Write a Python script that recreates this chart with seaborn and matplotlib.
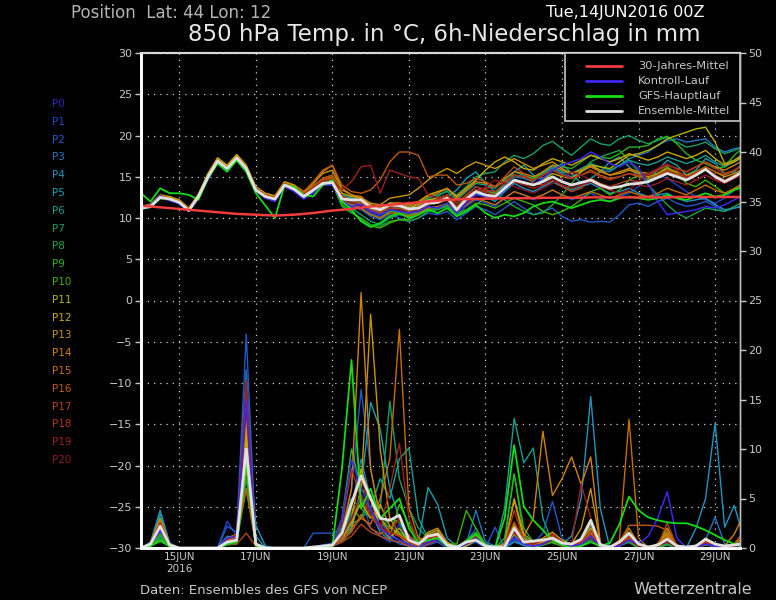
import numpy as np
import pandas as pd
import matplotlib
matplotlib.use("Agg")
import matplotlib.pyplot as plt
import seaborn as sns

# forecast steps: 6-hourly, in days since 14JUN2016 00Z
days = np.arange(64) * 0.25

# ---- 850 hPa temperature (degC) ----
temp_p01 = [11.3, 11.5, 12.5, 12.4, 12.0, 11.0, 12.7, 15.1, 17.0, 16.1, 17.4, 16.1, 13.5, 12.7, 12.4, 14.1,
            13.6, 12.7, 13.5, 14.3, 14.6, 12.2, 11.8, 11.6, 10.6, 10.2, 10.8, 10.6, 10.2, 10.6, 11.2, 11.0,
            11.6, 10.4, 11.4, 12.2, 11.8, 11.4, 12.4, 13.2, 12.8, 12.2, 12.8, 13.4, 12.8, 12.2, 12.6, 13.0,
            12.4, 12.0, 12.6, 13.0, 13.8, 14.6, 15.2, 14.8, 14.0, 13.2, 12.6, 12.2, 11.8, 12.4, 13.4, 14.0]
temp_p02 = [11.0, 11.3, 12.4, 12.2, 11.8, 10.8, 12.4, 14.8, 16.7, 15.8, 17.1, 15.7, 13.2, 12.4, 12.1, 13.8,
            13.3, 12.4, 13.2, 14.0, 14.1, 11.8, 11.4, 11.0, 10.2, 9.8, 10.4, 10.0, 9.6, 10.0, 10.6, 10.4,
            10.8, 9.8, 10.6, 11.4, 11.0, 10.4, 11.2, 12.0, 11.2, 10.4, 10.8, 11.2, 10.2, 9.6, 9.8, 9.5,
            9.6, 9.5, 10.4, 11.6, 11.8, 11.4, 12.0, 12.4, 11.8, 11.4, 11.6, 12.0, 11.4, 10.8, 11.2, 11.6]
temp_p03 = [11.2, 11.4, 12.6, 12.3, 11.9, 10.9, 12.6, 15.0, 16.9, 16.0, 17.3, 16.0, 13.4, 12.6, 12.3, 14.0,
            13.5, 12.6, 13.4, 14.2, 14.3, 12.6, 12.4, 12.0, 11.2, 10.8, 11.6, 11.4, 11.0, 11.4, 12.2, 12.4,
            12.8, 11.8, 12.8, 13.8, 13.4, 13.0, 14.0, 15.0, 14.8, 14.4, 15.4, 16.0, 15.4, 15.0, 15.6, 16.2,
            15.8, 15.6, 16.4, 17.2, 17.6, 18.0, 18.8, 19.4, 19.6, 19.2, 19.4, 19.6, 18.6, 18.0, 18.4, 18.6]
temp_p04 = [11.1, 11.5, 12.4, 12.2, 11.8, 11.0, 12.5, 14.9, 16.8, 15.9, 17.2, 15.9, 13.4, 12.5, 12.2, 13.9,
            13.4, 12.6, 13.3, 14.1, 14.3, 12.0, 11.6, 11.8, 11.0, 10.6, 11.0, 11.2, 10.8, 11.0, 11.6, 11.8,
            12.2, 11.2, 12.0, 13.0, 12.6, 12.0, 13.2, 14.2, 13.6, 13.2, 13.8, 14.4, 13.8, 13.4, 13.8, 14.2,
            13.6, 13.0, 13.2, 13.6, 13.0, 12.6, 12.8, 13.0, 12.4, 12.0, 12.2, 12.4, 11.6, 11.0, 11.2, 11.4]
temp_p05 = [11.3, 11.4, 12.5, 12.3, 11.9, 11.0, 12.6, 15.0, 16.9, 16.0, 17.2, 16.0, 13.5, 12.7, 12.4, 14.1,
            13.6, 12.8, 13.6, 14.4, 14.6, 12.4, 12.0, 11.8, 11.0, 10.6, 11.4, 11.2, 10.8, 11.2, 11.8, 12.2,
            12.6, 13.4, 14.8, 15.6, 14.2, 13.2, 13.8, 15.6, 16.4, 15.2, 14.6, 15.8, 16.6, 15.4, 14.2, 14.8,
            15.6, 16.8, 17.4, 16.2, 15.0, 14.6, 15.8, 17.0, 16.4, 15.2, 15.8, 17.2, 16.6, 15.4, 15.6, 16.8]
temp_p06 = [11.2, 11.6, 12.6, 12.4, 12.0, 11.1, 12.7, 15.2, 17.1, 16.2, 17.5, 16.2, 13.6, 12.8, 12.5, 14.2,
            13.8, 12.9, 13.8, 14.6, 14.9, 12.8, 12.4, 12.2, 11.4, 11.0, 11.8, 11.6, 11.2, 11.6, 12.4, 12.8,
            13.2, 12.2, 13.2, 14.2, 14.0, 13.6, 14.6, 15.6, 15.2, 14.8, 15.4, 16.2, 15.6, 15.4, 16.0, 16.6,
            16.2, 15.8, 16.4, 17.0, 16.6, 16.4, 16.8, 17.4, 17.0, 16.6, 17.0, 17.6, 16.8, 16.2, 16.8, 17.4]
temp_p07 = [11.2, 11.4, 12.4, 12.3, 11.9, 10.9, 12.5, 14.9, 16.8, 15.9, 17.2, 15.9, 13.3, 12.5, 12.2, 13.9,
            13.4, 12.5, 13.3, 14.1, 14.2, 12.0, 11.2, 10.4, 9.6, 9.2, 10.0, 10.4, 10.2, 10.8, 11.8, 12.6,
            13.4, 12.8, 13.8, 15.0, 15.4, 15.6, 16.8, 17.6, 17.2, 17.8, 18.8, 19.3, 18.4, 17.6, 18.6, 19.6,
            19.0, 18.8, 19.6, 20.0, 19.4, 19.0, 19.4, 19.8, 19.2, 18.6, 18.8, 19.2, 18.4, 17.8, 18.2, 18.6]
temp_p08 = [11.1, 11.3, 12.3, 12.2, 11.8, 10.8, 12.4, 14.8, 16.7, 15.8, 17.0, 15.7, 13.3, 12.5, 12.2, 13.8,
            13.4, 12.5, 13.2, 14.0, 14.2, 11.4, 10.6, 10.0, 9.2, 9.0, 9.6, 9.8, 9.6, 10.0, 10.8, 11.0,
            11.4, 10.4, 10.8, 11.6, 12.4, 13.0, 12.2, 11.4, 10.8, 10.4, 10.6, 11.6, 12.8, 14.2, 15.6, 16.8,
            17.4, 17.8, 18.2, 17.0, 15.6, 14.0, 12.8, 11.6, 10.6, 10.0, 10.6, 11.2, 11.0, 10.8, 11.4, 12.0]
temp_p09 = [11.3, 11.5, 12.6, 12.4, 12.0, 11.0, 12.7, 15.1, 17.0, 16.1, 17.4, 16.1, 13.5, 12.6, 12.3, 14.0,
            13.6, 12.7, 13.5, 14.3, 14.5, 12.2, 11.6, 11.2, 10.4, 10.0, 10.8, 10.8, 10.4, 10.8, 11.6, 11.8,
            12.2, 11.4, 12.4, 13.4, 13.2, 13.0, 14.2, 15.2, 15.0, 14.8, 15.6, 16.4, 16.2, 16.0, 16.8, 17.6,
            17.4, 17.2, 17.8, 18.6, 18.6, 18.8, 19.6, 19.9, 19.0, 17.8, 17.0, 16.6, 16.0, 16.2, 17.6, 18.6]
temp_p10 = [11.2, 11.3, 12.4, 12.2, 11.8, 10.9, 12.5, 14.9, 16.8, 15.9, 17.1, 15.8, 13.3, 12.5, 12.1, 13.8,
            13.3, 12.5, 13.2, 14.0, 14.1, 11.6, 10.8, 9.8, 9.0, 8.8, 9.4, 9.8, 9.8, 10.4, 11.0, 11.2,
            11.6, 10.6, 11.0, 11.8, 11.6, 11.2, 11.8, 12.4, 12.0, 11.6, 10.8, 10.4, 10.8, 11.4, 12.2, 13.2,
            13.6, 12.8, 13.4, 14.6, 15.2, 14.6, 15.4, 16.2, 15.4, 14.2, 13.8, 14.6, 13.8, 13.0, 13.4, 14.4]
temp_p11 = [11.4, 11.6, 12.7, 12.5, 12.1, 11.1, 12.8, 15.3, 17.2, 16.3, 17.6, 16.3, 13.7, 12.8, 12.5, 14.2,
            13.8, 12.9, 13.7, 14.6, 14.8, 12.6, 12.2, 12.2, 11.4, 11.0, 11.6, 11.4, 11.2, 11.6, 12.2, 12.4,
            12.8, 11.8, 12.6, 13.4, 13.2, 12.8, 13.6, 14.4, 14.2, 14.0, 14.6, 15.4, 15.0, 14.8, 15.6, 16.4,
            16.2, 16.0, 16.8, 17.6, 17.8, 18.2, 18.8, 19.6, 20.0, 20.4, 20.8, 21.0, 19.2, 16.6, 17.0, 17.8]
temp_p12 = [11.3, 11.7, 12.8, 12.6, 12.2, 11.2, 12.9, 15.4, 17.3, 16.4, 17.7, 16.4, 13.8, 13.0, 12.7, 14.4,
            14.0, 13.0, 13.9, 14.8, 15.2, 13.0, 12.6, 12.4, 11.6, 11.2, 11.8, 11.8, 11.6, 12.0, 12.8, 13.2,
            13.6, 12.6, 13.6, 14.6, 15.8, 16.8, 17.4, 16.8, 16.0, 15.8, 16.6, 17.2, 16.8, 16.4, 17.0, 17.6,
            17.2, 16.8, 17.2, 17.8, 17.4, 17.0, 17.4, 18.0, 17.6, 17.2, 17.6, 18.2, 17.2, 16.4, 16.8, 17.6]
temp_p13 = [11.4, 11.6, 12.6, 12.5, 12.1, 11.2, 12.8, 15.2, 17.1, 16.2, 17.5, 16.2, 13.7, 12.9, 12.6, 14.3,
            14.0, 13.2, 14.2, 15.4, 15.8, 13.4, 12.8, 12.4, 11.8, 11.6, 12.4, 12.6, 12.8, 13.6, 14.6, 15.4,
            16.0, 15.4, 16.2, 16.8, 16.4, 16.0, 16.6, 17.2, 16.6, 16.0, 16.4, 16.8, 16.0, 15.4, 15.8, 16.4,
            15.8, 15.2, 15.4, 15.8, 15.4, 15.0, 15.4, 16.0, 15.6, 15.2, 15.6, 16.2, 15.6, 15.0, 15.4, 16.0]
temp_p14 = [11.3, 11.5, 12.6, 12.4, 12.0, 11.0, 12.7, 15.1, 17.0, 16.1, 17.4, 16.1, 13.6, 12.8, 12.5, 14.2,
            13.9, 13.2, 14.2, 15.6, 16.4, 13.6, 12.8, 12.6, 11.6, 11.2, 11.8, 11.8, 11.4, 11.8, 12.6, 13.0,
            13.6, 12.4, 13.4, 14.4, 14.2, 13.8, 14.8, 15.6, 15.4, 15.0, 15.6, 16.4, 15.8, 15.4, 15.8, 16.2,
            15.6, 15.2, 15.6, 16.0, 15.6, 15.4, 15.8, 16.4, 16.0, 15.6, 16.2, 16.8, 16.2, 15.8, 16.4, 17.0]
temp_p15 = [11.1, 11.4, 12.5, 12.3, 11.9, 10.9, 12.6, 15.0, 16.9, 16.0, 17.3, 16.0, 13.4, 12.6, 12.3, 14.0,
            13.6, 12.8, 13.6, 14.6, 15.0, 12.4, 11.6, 11.2, 10.4, 10.0, 10.6, 10.6, 10.2, 10.6, 11.2, 11.4,
            11.8, 10.8, 11.6, 12.4, 12.0, 11.6, 12.4, 13.2, 12.8, 12.4, 12.8, 13.4, 12.8, 12.4, 12.8, 13.2,
            12.8, 12.4, 12.8, 13.2, 12.8, 12.6, 13.0, 13.6, 13.2, 12.8, 13.4, 14.0, 13.4, 13.0, 13.6, 14.2]
temp_p16 = [11.2, 11.5, 12.6, 12.4, 12.0, 11.0, 12.6, 15.0, 16.9, 16.0, 17.3, 16.0, 13.5, 12.7, 12.4, 14.1,
            13.8, 13.2, 14.4, 15.8, 16.4, 14.0, 13.2, 13.0, 13.4, 14.6, 16.8, 18.0, 18.0, 17.6, 15.0, 15.2,
            15.2, 14.0, 14.2, 14.8, 14.4, 13.8, 14.4, 15.2, 15.0, 14.6, 15.2, 15.8, 15.2, 14.8, 15.2, 15.8,
            15.2, 14.8, 15.0, 15.4, 15.0, 14.8, 15.2, 15.8, 15.4, 15.0, 15.6, 16.2, 15.6, 15.2, 15.8, 16.4]
temp_p17 = [11.3, 11.4, 12.5, 12.3, 11.9, 11.0, 12.6, 15.0, 16.9, 16.0, 17.3, 16.0, 13.5, 12.7, 12.4, 14.1,
            13.7, 12.9, 13.8, 14.8, 15.2, 12.6, 12.0, 11.8, 11.0, 10.6, 11.2, 11.2, 10.8, 11.2, 11.8, 12.0,
            12.6, 11.4, 12.4, 13.4, 13.6, 13.8, 15.0, 16.2, 15.4, 14.2, 14.0, 14.6, 13.8, 13.2, 13.6, 14.8,
            14.2, 13.8, 14.2, 14.6, 14.4, 14.4, 15.0, 15.6, 15.2, 14.8, 15.4, 16.0, 15.2, 14.6, 15.2, 15.8]
temp_p18 = [11.2, 11.6, 12.7, 12.4, 12.0, 11.1, 12.7, 15.1, 17.0, 16.1, 17.4, 16.1, 13.6, 12.8, 12.5, 14.2,
            13.7, 12.9, 13.7, 14.6, 14.8, 12.6, 12.2, 12.0, 11.2, 10.8, 11.4, 11.4, 11.0, 11.4, 12.0, 12.2,
            12.8, 11.8, 12.8, 13.8, 13.4, 13.2, 14.2, 15.2, 15.0, 14.6, 15.2, 15.8, 15.2, 14.8, 15.2, 15.6,
            15.0, 14.6, 15.0, 15.4, 15.2, 15.2, 15.8, 16.4, 16.0, 15.6, 16.2, 16.8, 16.0, 15.4, 15.8, 16.6]
temp_p19 = [11.2, 11.4, 12.5, 12.3, 11.9, 10.9, 12.6, 15.0, 16.9, 16.0, 17.3, 16.0, 13.4, 12.6, 12.3, 14.0,
            13.5, 12.7, 13.6, 14.4, 14.6, 13.4, 14.4, 16.2, 16.4, 13.0, 15.8, 15.4, 15.0, 14.8, 12.8, 12.4,
            12.8, 11.8, 12.6, 13.4, 13.2, 12.8, 13.6, 14.4, 14.0, 13.6, 14.0, 14.6, 14.0, 13.6, 14.0, 14.4,
            13.8, 13.4, 13.8, 14.2, 14.0, 13.8, 14.2, 14.8, 14.4, 14.0, 14.6, 15.2, 14.6, 14.2, 14.8, 15.4]
temp_p20 = [11.1, 11.5, 12.4, 12.2, 11.8, 10.9, 12.5, 14.9, 16.8, 15.9, 17.2, 15.9, 13.3, 12.5, 12.2, 13.9,
            13.4, 12.6, 13.4, 14.2, 14.4, 12.2, 11.8, 11.6, 10.8, 10.4, 11.0, 11.0, 10.6, 11.0, 11.6, 11.8,
            12.2, 11.2, 12.0, 12.8, 13.8, 14.6, 14.2, 13.8, 13.4, 13.0, 13.6, 14.2, 14.8, 15.6, 15.2, 14.6,
            14.0, 13.4, 13.0, 13.4, 14.4, 15.4, 16.0, 16.6, 15.8, 15.0, 14.6, 15.2, 14.6, 14.2, 14.8, 15.4]
temp_control = [11.0, 11.6, 12.7, 12.1, 11.7, 10.8, 12.4, 14.6, 16.8, 15.8, 17.0, 15.6, 13.6, 12.4, 12.0, 13.8,
                13.2, 12.3, 13.0, 14.0, 14.0, 12.0, 11.4, 11.6, 10.8, 10.4, 11.0, 10.8, 10.6, 10.8, 11.4, 11.2,
                11.8, 10.6, 11.8, 12.8, 12.6, 12.4, 13.4, 14.6, 14.4, 14.0, 14.8, 15.8, 16.4, 16.8, 17.2, 18.0,
                17.4, 16.6, 16.2, 16.8, 16.0, 14.2, 12.0, 10.4, 10.6, 10.8, 11.0, 11.4, 11.2, 11.6, 12.2, 12.8]
temp_gfs = [13.0, 12.0, 13.6, 13.0, 13.0, 12.8, 12.2, 14.8, 16.6, 15.6, 17.0, 15.6, 13.0, 11.5, 10.0, 14.0,
            13.8, 12.8, 12.6, 14.0, 14.6, 12.0, 11.0, 9.6, 8.9, 9.4, 10.2, 10.6, 10.0, 10.4, 11.0, 10.6,
            11.2, 10.2, 10.8, 11.6, 10.6, 10.0, 10.4, 10.2, 10.6, 11.4, 11.8, 12.0, 11.6, 11.2, 11.6, 12.0,
            12.2, 12.0, 12.4, 12.6, 12.4, 12.2, 12.4, 12.8, 12.4, 12.2, 12.6, 13.0, 12.6, 12.8, 13.4, 13.8]
temp_mean = [11.2, 11.4, 12.5, 12.3, 11.9, 10.9, 12.6, 15.0, 16.9, 16.0, 17.3, 16.0, 13.4, 12.6, 12.3, 14.0,
             13.5, 12.6, 13.4, 14.2, 14.3, 12.3, 12.2, 12.2, 11.3, 11.0, 11.6, 11.5, 11.1, 11.2, 11.8, 11.9,
             12.4, 11.0, 12.3, 13.2, 12.8, 12.6, 13.6, 14.6, 14.3, 14.0, 14.4, 15.0, 14.4, 14.0, 14.3, 14.6,
             14.0, 13.6, 13.8, 14.1, 14.2, 14.4, 14.9, 15.4, 15.0, 14.6, 15.2, 15.9, 15.0, 14.4, 15.0, 15.7]
temp_clim = [11.5, 11.4, 11.3, 11.2, 11.1, 11.0, 10.9, 10.8, 10.7, 10.6, 10.5, 10.45, 10.4, 10.35, 10.3, 10.35,
             10.4, 10.5, 10.6, 10.75, 10.9, 11.0, 11.1, 11.25, 11.4, 11.5, 11.6, 11.7, 11.8, 11.9, 12.0, 12.1,
             12.2, 12.25, 12.3, 12.3, 12.35, 12.35, 12.4, 12.4, 12.4, 12.4, 12.45, 12.45, 12.45, 12.45, 12.45, 12.5,
             12.5, 12.5, 12.5, 12.5, 12.5, 12.5, 12.5, 12.5, 12.55, 12.55, 12.55, 12.55, 12.55, 12.55, 12.55, 12.55]

# ---- 6h precipitation (mm) ----
prec_p01 = [0, 0.4, 2.0, 0.3, 0, 0, 0, 0, 0, 2.7, 1.2, 12.0, 0.3, 0, 0, 0,
            0, 0, 0, 0.3, 0.5, 1.0, 3.2, 5.0, 2.0, 1.2, 0.6, 2.4, 0.4, 0, 0.8, 1.0,
            0.2, 0, 0.6, 2.0, 0.3, 0, 0, 1.2, 0.4, 0.2, 0.8, 1.0, 0.3, 0, 0.4, 1.5,
            0, 0, 0.3, 0.8, 0, 0, 0, 0.4, 0, 0, 0, 0.6, 0.2, 0, 0, 0.3]
prec_p02 = [0, 0.5, 1.6, 0.2, 0, 0, 0, 0, 0, 2.2, 1.6, 21.6, 0.4, 0, 0, 0,
            0, 0, 1.5, 1.5, 1.5, 2.0, 6.0, 16.0, 8.0, 3.0, 1.0, 0.4, 0.2, 0, 0.3, 0.6,
            0, 0, 0.2, 0.6, 0, 2.1, 0, 0.8, 0.2, 0.5, 1.5, 4.7, 1.0, 0.2, 0.6, 2.0,
            0.2, 0, 0.4, 0.6, 0, 0, 0.2, 0.8, 0, 0, 0, 0.4, 0, 0, 0.2, 0]
prec_p03 = [0, 0.3, 2.4, 0.4, 0, 0, 0, 0, 0, 1.2, 0.8, 18.0, 0.5, 0, 0, 0,
            0, 0, 0, 0.2, 0.4, 1.4, 4.0, 9.0, 5.0, 2.0, 1.4, 0.8, 0.4, 0.2, 0.6, 1.2,
            0.4, 0, 0.4, 3.8, 0.6, 0.2, 0, 1.6, 0.6, 0.3, 0.8, 1.2, 0.4, 0.2, 0.8, 2.2,
            0, 0, 0.4, 1.2, 0.3, 0, 0.4, 1.0, 0.2, 0, 0, 0.8, 3.1, 0.4, 0.2, 0.6]
prec_p04 = [0, 0.6, 3.8, 0.5, 0, 0, 0, 0, 0, 0.8, 1.0, 14.0, 2.3, 0.2, 0, 0,
            0, 0, 0, 0, 0.2, 0.8, 2.4, 5.4, 3.6, 1.6, 0.8, 0.6, 0.2, 0, 0.6, 1.2,
            0.6, 0, 0.3, 1.2, 0.4, 0, 0, 0.6, 0.3, 0, 0.3, 0.6, 0.4, 1.2, 5.0, 15.3,
            4.0, 0, 0.6, 1.0, 0.2, 0, 0, 0.6, 0, 0, 2.0, 5.0, 12.6, 2.1, 4.3, 1.0]
prec_p05 = [0, 0.5, 3.4, 0.4, 0, 0, 0, 0, 0, 0.6, 0.6, 10.0, 1.2, 0, 0, 0,
            0, 0, 0, 0, 0.2, 0.6, 1.8, 6.0, 14.7, 12.0, 6.0, 3.0, 1.2, 0.6, 6.1, 4.4,
            1.0, 0.2, 0.4, 0.8, 0.2, 0, 0.2, 1.0, 0.3, 0, 0.4, 0.8, 0.2, 0, 0.4, 1.2,
            0.2, 0, 0.3, 0.6, 0, 0, 0.2, 0.6, 0, 0, 0.3, 0.6, 0.2, 0, 0, 0.2]
prec_p06 = [0, 0.2, 1.2, 0.2, 0, 0, 0, 0, 0, 0.5, 0.4, 9.0, 0.3, 0, 0, 0,
            0, 0, 0, 0, 0.3, 1.0, 2.4, 3.0, 4.0, 7.0, 5.0, 9.0, 10.1, 3.0, 1.0, 0.8,
            0.3, 0, 0.6, 1.0, 0.2, 0, 4.0, 13.1, 8.6, 10.1, 3.0, 0.5, 0.2, 0, 0.6, 2.4,
            0.3, 0, 0.4, 1.4, 0.2, 0, 0.2, 0.8, 0.2, 0, 0, 0.6, 0.4, 0, 0.2, 0.4]
prec_p07 = [0, 0.2, 0.8, 0.1, 0, 0, 0, 0, 0, 0.4, 0.5, 8.0, 0.2, 0, 0, 0,
            0, 0, 0, 0, 0.2, 2.0, 5.0, 4.0, 3.0, 4.0, 14.8, 7.0, 4.0, 2.0, 1.0, 1.4,
            0.2, 0, 0.8, 1.4, 0.3, 0, 0.6, 7.5, 1.2, 0.4, 0.6, 0.8, 0.2, 0, 0.2, 0.8,
            0, 0, 0.2, 0.8, 0, 0, 0, 0.4, 0, 0, 0, 0.4, 0.2, 0, 0, 0.2]
prec_p08 = [0, 0.3, 1.0, 0.2, 0, 0, 0, 0, 0, 0.3, 0.4, 7.0, 0.2, 0, 0, 0,
            0, 0, 0, 0, 0.2, 1.2, 3.6, 5.0, 4.0, 2.0, 3.0, 2.6, 1.0, 0.4, 0.6, 0.8,
            0.2, 0, 0.6, 1.0, 0.2, 0, 0, 1.8, 0.6, 0.2, 0.3, 0.6, 0.2, 0, 0.2, 1.0,
            0, 0, 0.2, 0.6, 0, 0, 0, 0.3, 0, 0, 0, 0.3, 0.2, 0, 0, 0.2]
prec_p09 = [0, 0.2, 0.9, 0.2, 0, 0, 0, 0, 0, 0.4, 0.6, 6.0, 0.3, 0, 0, 0,
            0, 0, 0, 0, 0.4, 3.0, 10.0, 6.0, 5.0, 3.0, 2.0, 1.6, 0.8, 0.4, 1.2, 1.0,
            0.2, 0, 0.8, 1.6, 0.4, 0, 1.0, 7.5, 2.0, 0.6, 0.6, 1.0, 0.4, 0.2, 0.6, 1.8,
            0.2, 0, 0.6, 1.6, 0.2, 0, 0.2, 1.0, 0.2, 0, 0, 0.8, 0.4, 0, 0.2, 0.4]
prec_p10 = [0, 0.3, 1.4, 0.2, 0, 0, 0, 0, 0, 0.6, 0.8, 9.0, 0.2, 0, 0, 0,
            0, 0, 0, 0, 0.3, 1.6, 4.0, 3.0, 5.4, 2.0, 1.2, 4.4, 2.4, 0.8, 0.8, 1.2,
            0.4, 0.4, 3.8, 2.0, 0.3, 0, 0.4, 2.4, 0.6, 0.2, 0.4, 0.6, 0.2, 0, 0.4, 1.2,
            0, 0, 0.3, 0.8, 0, 0, 0, 0.6, 0, 0, 0.2, 0.8, 0.3, 0, 0, 0.2]
prec_p11 = [0, 0.5, 2.6, 0.4, 0, 0, 0, 0, 0, 0.8, 1.0, 12.0, 0.4, 0, 0, 0,
            0, 0, 0, 0, 0.2, 1.0, 3.0, 8.0, 5.0, 2.0, 1.0, 2.0, 0.6, 0.2, 1.0, 1.6,
            0.3, 0, 0.4, 0.8, 0.2, 0, 0.2, 1.4, 0.4, 0.2, 0.6, 1.0, 0.4, 0.2, 0.6, 2.0,
            0.2, 0, 0.6, 1.2, 0.2, 0, 0.4, 1.6, 0.3, 0, 0, 1.0, 0.4, 0, 0.2, 0.4]
prec_p12 = [0, 0.4, 2.8, 0.3, 0, 0, 0, 0, 0, 0.6, 1.2, 11.0, 0.3, 0, 0, 0,
            0, 0, 0, 0, 0.2, 1.2, 2.6, 4.6, 3.0, 4.4, 2.2, 1.2, 0.4, 0.2, 1.4, 1.8,
            0.4, 0, 0.2, 0.8, 0.2, 0, 0.2, 4.8, 1.0, 0.3, 0.8, 1.4, 0.6, 0.2, 0.8, 2.6,
            0.2, 0, 0.4, 1.4, 0.3, 0, 0.4, 2.0, 0.2, 0, 0, 0.8, 0.3, 0, 0.2, 0.6]
prec_p13 = [0, 0.5, 3.0, 0.4, 0, 0, 0, 0, 0, 1.0, 1.4, 13.0, 0.4, 0, 0, 0,
            0, 0, 0, 0, 0.3, 1.0, 2.0, 6.0, 23.6, 10.0, 3.0, 1.4, 0.6, 0.4, 1.6, 2.0,
            0.6, 0, 0.4, 1.0, 0.3, 0, 0.4, 5.0, 1.4, 0.6, 1.0, 1.6, 0.8, 0.4, 2.0, 6.0,
            0.4, 0, 0.4, 1.0, 0.3, 0, 0.3, 1.4, 0.2, 0, 0, 0.8, 0.4, 0, 0.4, 1.0]
prec_p14 = [0, 0.4, 2.8, 0.3, 0, 0, 0, 0, 0, 0.6, 0.8, 8.0, 0.3, 0, 0, 0,
            0, 0, 0, 0, 0.3, 1.4, 6.0, 25.8, 8.0, 3.0, 1.6, 1.2, 0.6, 0.4, 1.0, 1.4,
            0.3, 0, 0.4, 0.8, 0.2, 0, 0.4, 2.2, 1.2, 3.0, 11.8, 5.3, 7.0, 9.2, 6.4, 9.2,
            0.5, 0, 0.3, 2.0, 0.4, 0, 0.2, 1.2, 0.2, 0, 0, 0.8, 0.4, 0.2, 1.4, 3.4]
prec_p15 = [0, 0.3, 2.2, 0.3, 0, 0, 0, 0, 0, 0.6, 1.0, 10.0, 0.2, 0, 0, 0,
            0, 0, 0, 0, 0.2, 1.0, 2.0, 3.0, 2.4, 5.0, 9.0, 22.1, 4.0, 1.0, 0.8, 1.2,
            0.2, 0, 0.4, 1.0, 0.2, 0, 0.2, 1.6, 0.4, 0.2, 0.6, 1.2, 0.4, 0.2, 0.6, 1.6,
            0.2, 0, 0.8, 13.0, 1.0, 0, 0.4, 1.4, 0.2, 0, 0, 0.6, 0.3, 0, 0.4, 1.6]
prec_p16 = [0, 0.4, 2.5, 0.3, 0, 0, 0, 0, 0, 0.8, 1.2, 6.0, 0.3, 0, 0, 0,
            0, 0, 0, 0, 0.2, 0.8, 1.6, 3.4, 2.0, 1.4, 2.0, 3.0, 1.2, 0.4, 1.2, 1.6,
            0.4, 0, 0.6, 1.2, 0.3, 0, 0.2, 2.6, 0.8, 0.4, 0.8, 1.2, 0.4, 0.2, 0.8, 2.4,
            0.2, 0, 0.6, 2.3, 2.3, 2.3, 2.2, 1.8, 0.3, 0, 0, 0.6, 0.4, 0, 0.4, 1.6]
prec_p17 = [0, 0.3, 1.8, 0.2, 0, 0, 0, 0, 0, 0.4, 0.4, 1.5, 0.2, 0, 0, 0,
            0, 0, 0, 0, 0.2, 0.6, 1.2, 2.4, 1.6, 1.2, 0.8, 0.6, 0.2, 0, 0.4, 0.8,
            0.2, 0, 0.4, 0.8, 0.2, 0, 0.2, 1.6, 0.4, 0.2, 0.4, 0.8, 0.2, 0, 0.4, 1.4,
            0, 0, 0.4, 1.0, 0.2, 0, 0.2, 2.5, 0.2, 0, 0, 0.6, 0.2, 0, 0.2, 0.4]
prec_p18 = [0, 0.5, 2.6, 0.4, 0, 0, 0, 0, 0, 0.8, 1.4, 16.0, 0.4, 0, 0, 0,
            0, 0, 0, 0, 0.4, 2.4, 8.0, 5.0, 3.2, 2.0, 1.6, 1.2, 0.6, 0.2, 1.0, 1.2,
            0.3, 0, 0.4, 1.2, 0.3, 0, 0.2, 3.8, 0.8, 0.4, 0.8, 1.2, 0.4, 0.2, 0.6, 1.8,
            0.2, 0, 0.4, 1.2, 0.2, 0, 0.2, 1.0, 0.2, 0, 0, 0.6, 0.2, 0, 0.2, 0.4]
prec_p19 = [0, 0.4, 2.2, 0.3, 0, 0, 0, 0, 0, 0.6, 1.0, 17.0, 0.3, 0, 0, 0,
            0, 0, 0, 0, 0.3, 1.6, 4.0, 7.0, 4.0, 2.0, 6.0, 10.6, 3.0, 0.6, 1.0, 0.8,
            0.2, 0, 0.4, 0.8, 0.2, 0, 0.2, 2.0, 0.6, 0.4, 0.8, 1.4, 0.6, 0.4, 6.5, 3.0,
            0.2, 0, 0.4, 0.8, 0.2, 0, 0.2, 0.8, 0.2, 0, 0, 0.4, 0.2, 0, 0.2, 0.4]
prec_p20 = [0, 0.4, 2.0, 0.3, 0, 0, 0, 0, 0, 0.6, 1.0, 14.0, 0.3, 0, 0, 0,
            0, 0, 0, 0, 0.2, 1.2, 3.0, 5.4, 3.6, 2.4, 1.2, 3.0, 1.0, 0.4, 0.6, 1.0,
            0.2, 0, 0.4, 1.0, 0.2, 0, 0.2, 1.6, 0.4, 0.2, 0.4, 0.8, 0.2, 0, 0.4, 1.0,
            0, 0, 0.3, 0.8, 0.2, 0, 0.2, 0.6, 0, 0, 0, 0.4, 0.2, 0, 0.2, 0.3]
prec_control = [0, 0.3, 1.8, 0.3, 0, 0, 0, 0, 0, 1.0, 1.2, 15.0, 0.4, 0, 0, 0,
                0, 0, 0, 0, 0.2, 3.0, 8.9, 6.0, 4.0, 2.0, 1.2, 0.8, 0.4, 0, 0.6, 0.8,
                0.2, 0, 0.4, 1.0, 0.2, 0, 0.2, 1.0, 0.4, 0.2, 0.4, 1.0, 0.4, 0.2, 0.4, 1.2,
                0.2, 0, 0.2, 0.8, 0.4, 1.2, 3.0, 5.7, 1.0, 0, 0, 0.4, 0.2, 0, 0, 0.2]
prec_gfs = [0, 0.2, 0.7, 0.2, 0, 0, 0, 0, 0, 0.4, 0.6, 8.6, 0.2, 0, 0, 0,
            0, 0, 0, 0, 0.2, 8.0, 19.0, 4.0, 6.0, 3.0, 4.0, 5.0, 2.0, 0.5, 0.8, 1.0,
            0.2, 0, 0.6, 1.4, 0.3, 0, 3.0, 10.4, 4.2, 2.8, 1.8, 0.8, 0.3, 0, 0.2, 0.6,
            0.2, 0.5, 2.4, 5.2, 3.8, 3.1, 2.8, 2.6, 2.5, 2.5, 2.2, 1.8, 1.3, 0.8, 0.4, 0.1]
prec_mean = [0, 0.4, 2.2, 0.3, 0, 0, 0, 0, 0, 0.6, 0.8, 10.0, 0.4, 0, 0, 0,
             0, 0, 0.1, 0.2, 0.3, 1.5, 4.5, 7.3, 5.0, 3.0, 2.8, 3.3, 0.8, 0.4, 1.2, 1.4,
             0.3, 0.1, 0.6, 0.8, 0.2, 0.1, 0.1, 2.0, 0.6, 0.7, 0.8, 1.0, 0.5, 0.4, 0.9, 2.8,
             0.3, 0.1, 0.6, 1.5, 0.4, 0.1, 0.3, 0.9, 0.2, 0.1, 0.2, 0.9, 0.4, 0.2, 0.3, 0.5]

member_labels = ["P%d" % i for i in range(21)]
label_colors = ["#2828b4", "#1e46d2", "#1e5ac8", "#1e78c0", "#1e96c0", "#14a0b0",
                "#14a08c", "#14a064", "#14a846", "#28b41e", "#3cb400", "#b4b400",
                "#c8aa00", "#c89600", "#d28200", "#c86e00", "#be5a0a", "#b44614",
                "#b43214", "#a01e1e", "#8c1428"]
date_labels = ["15JUN\n2016", "17JUN", "19JUN", "21JUN", "23JUN", "25JUN", "27JUN", "29JUN"]
legend_labels = ["30-Jahres-Mittel", "Kontroll-Lauf", "GFS-Hauptlauf", "Ensemble-Mittel"]
legend_colors = ["#f03c3c", "#3c28f0", "#14dc14", "#e0e0e0"]

temp_members = [temp_p01, temp_p02, temp_p03, temp_p04, temp_p05, temp_p06, temp_p07,
                temp_p08, temp_p09, temp_p10, temp_p11, temp_p12, temp_p13, temp_p14,
                temp_p15, temp_p16, temp_p17, temp_p18, temp_p19, temp_p20]
prec_members = [prec_p01, prec_p02, prec_p03, prec_p04, prec_p05, prec_p06, prec_p07,
                prec_p08, prec_p09, prec_p10, prec_p11, prec_p12, prec_p13, prec_p14,
                prec_p15, prec_p16, prec_p17, prec_p18, prec_p19, prec_p20]
names = member_labels[1:]
palette = dict(zip(names, label_colors[1:]))

df = pd.DataFrame({
    "day": np.tile(days, len(names)),
    "member": np.repeat(names, len(days)),
    "temp": np.concatenate(temp_members),
    "prec": np.concatenate(prec_members),
})

sns.set_style("dark", rc={"axes.facecolor": "black", "figure.facecolor": "black"})
plt.rcParams["font.family"] = ["DejaVu Sans"]

grey = "#c8c8c8"
fig = plt.figure(figsize=(7.76, 6.0), dpi=100)
ax = fig.add_axes([141 / 776, 52 / 600, 599 / 776, 495 / 600])
ax2 = ax.twinx()

# temperatures (left axis)
sns.lineplot(data=df, x="day", y="temp", hue="member", palette=palette, estimator=None,
             sort=False, linewidth=1.0, legend=False, ax=ax)
sns.lineplot(x=days, y=temp_control, color=legend_colors[1], linewidth=1.1, ax=ax)
sns.lineplot(x=days, y=temp_gfs, color=legend_colors[2], linewidth=1.3, ax=ax)
sns.lineplot(x=days, y=temp_mean, color=legend_colors[3], linewidth=2.0, ax=ax)
sns.lineplot(x=days, y=temp_clim, color=legend_colors[0], linewidth=1.8, ax=ax)

# precipitation (right axis)
sns.lineplot(data=df, x="day", y="prec", hue="member", palette=palette, estimator=None,
             sort=False, linewidth=1.0, legend=False, ax=ax2)
sns.lineplot(x=days, y=prec_control, color=legend_colors[1], linewidth=1.1, ax=ax2)
sns.lineplot(x=days, y=prec_gfs, color=legend_colors[2], linewidth=1.3, ax=ax2)
sns.lineplot(x=days, y=prec_mean, color=legend_colors[3], linewidth=2.0, ax=ax2)

ax.set_xlim(0, 15.65)
ax.set_ylim(-30, 30)
ax2.set_ylim(0, 50)
ax.set_yticks(np.arange(-30, 31, 5))
ax2.set_yticks(np.arange(0, 51, 5))
ax.set_xticks(np.arange(1, 16, 2))
ax.set_xticklabels(date_labels)
ax.set_xlabel("")
ax.set_ylabel("")
ax2.set_ylabel("")

ax.grid(True, color="#d0d0d0", linestyle=(0, (1, 4)), linewidth=0.9)
ax2.grid(False)
ax.tick_params(axis="y", colors=grey, labelsize=8, length=4, width=1, pad=2, left=True)
ax.tick_params(axis="x", colors=grey, labelsize=7.5, length=0, pad=3)
ax2.tick_params(axis="y", colors=grey, labelsize=8, length=4, width=1, pad=2, right=True)

for a in (ax, ax2):
    a.spines["left"].set_color("white")
    a.spines["left"].set_linewidth(2)
    a.spines["bottom"].set_color("white")
    a.spines["bottom"].set_linewidth(2)
    a.spines["top"].set_color("#d8d8d8")
    a.spines["top"].set_linewidth(1.5)
    a.spines["right"].set_color("#bdbdbd")
    a.spines["right"].set_linewidth(1)

# legend box
box = plt.Rectangle((0.708, 0.862), 0.292, 0.138, transform=ax2.transAxes,
                    facecolor="black", edgecolor="#c8c8c8", linewidth=1.2, zorder=5)
ax2.add_patch(box)
for i, (lab, col) in enumerate(zip(legend_labels, legend_colors)):
    yy = 0.973 - i * 0.03
    ax2.plot([0.743, 0.803], [yy, yy], color=col, linewidth=2, transform=ax2.transAxes, zorder=6)
    ax2.text(0.83, yy, lab, color=grey, fontsize=8.2, va="center", transform=ax2.transAxes, zorder=6)

# member labels on the left
for i, (lab, col) in enumerate(zip(member_labels, label_colors)):
    fig.text(52 / 776, 1 - (104 + i * 17.8) / 600, lab, color=col, fontsize=7.5, va="center")

fig.text(71 / 776, 1 - 13 / 600, "Position  Lat: 44 Lon: 12", color="#b4b4b4", fontsize=12, va="center")
fig.text(705 / 776, 1 - 13 / 600, "Tue,14JUN2016 00Z", color="white", fontsize=11.5, va="center", ha="right")
fig.text(444 / 776, 1 - 35 / 600, "850 hPa Temp. in °C, 6h-Niederschlag in mm", color="#e6e6e6",
         fontsize=16.5, va="center", ha="center")
fig.text(140 / 776, 1 - 590 / 600, "Daten: Ensembles des GFS von NCEP", color=grey, fontsize=9.5, va="center")
fig.text(752 / 776, 1 - 590 / 600, "Wetterzentrale", color=grey, fontsize=11.4, va="center", ha="right")

fig.savefig("out.png", dpi=100, facecolor="black")
